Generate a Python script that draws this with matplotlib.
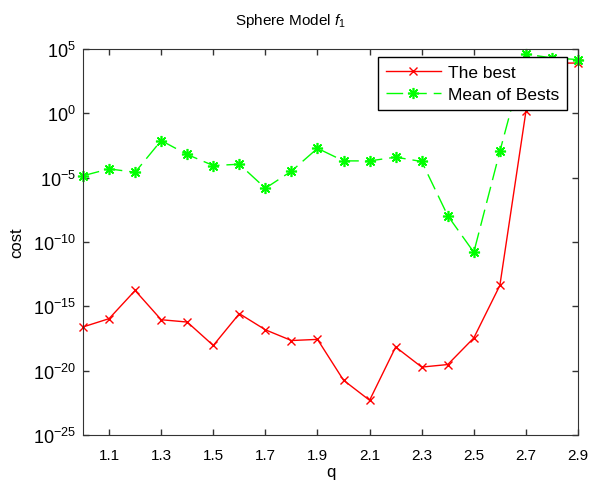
import matplotlib as mpl
mpl.use('Agg')
import matplotlib.pyplot as plt

plt.rcParams['font.family'] = ['Liberation Sans', 'DejaVu Sans']
plt.rcParams['mathtext.fontset'] = 'custom'
plt.rcParams['mathtext.rm'] = 'Liberation Sans'
plt.rcParams['mathtext.it'] = 'Liberation Sans:italic'

# q values and costs
q = [1.0, 1.1, 1.2, 1.3, 1.4, 1.5, 1.6, 1.7, 1.8, 1.9,
     2.0, 2.1, 2.2, 2.3, 2.4, 2.5, 2.6, 2.7, 2.8, 2.9]
the_best = [2.5e-17, 1.1e-16, 1.7e-14, 9.1e-17, 6.0e-17, 9.1e-19, 2.7e-16, 1.5e-17, 2.2e-18, 2.7e-18,
            1.8e-21, 5.0e-23, 6.9e-19, 1.9e-20, 3.0e-20, 3.5e-18, 4.2e-14, 1.4, 8.0e3, 8.0e3]
mean_of_bests = [1.4e-5, 4.8e-5, 2.6e-5, 7.6e-3, 6.3e-4, 8.7e-5, 1.1e-4, 1.5e-6, 3.2e-5, 1.9e-3,
                 2.0e-4, 2.0e-4, 3.9e-4, 1.8e-4, 1.1e-8, 1.6e-11, 1.1e-3, 4.0e4, 2.0e4, 1.5e4]

xticks = [1.1, 1.3, 1.5, 1.7, 1.9, 2.1, 2.3, 2.5, 2.7, 2.9]
xtick_labels = ['1.1', '1.3', '1.5', '1.7', '1.9', '2.1', '2.3', '2.5', '2.7', '2.9']
yexps = [-25, -20, -15, -10, -5, 0, 5]

fig = plt.figure(figsize=(5.9, 4.85), dpi=100)
ax = fig.add_axes([0.1407, 0.101, 0.839, 0.796])

ax.plot(q, the_best, '-', color='#ff0000', marker='x', markersize=5.5, linewidth=1.0,
        markeredgewidth=1.0, clip_on=False, label='The best')
ax.plot(q, mean_of_bests, color='#00ff00', marker=(8, 2, 0), markersize=8, linewidth=1.0,
        dashes=(12, 5), markeredgewidth=1.2, clip_on=False, label='Mean of Bests')

ax.set_yscale('log')
ax.set_xlim(1.0, 2.9)
ax.set_ylim(1e-25, 1e5)
ax.set_xticks(xticks)
ax.set_xticklabels(xtick_labels)
ax.set_yticks([10.0 ** e for e in yexps])
ax.set_yticklabels([r'$10^{%d}$' % e for e in yexps])
ax.minorticks_off()
ax.tick_params(direction='in', top=True, right=True, length=4.5, width=1,
               labelsize=11, color='#333333')
ax.tick_params(axis='x', pad=9)
ax.tick_params(axis='y', labelsize=13, pad=5)
for s in ax.spines.values():
    s.set_color('#333333')

ax.set_title(r'Sphere Model $f_1$', fontsize=11, pad=18, x=0.418)
ax.set_xlabel('q', fontsize=12, labelpad=2)
ax.set_ylabel('cost', fontsize=12, labelpad=6)

leg = ax.legend(loc='upper right', bbox_to_anchor=(0.978, 0.979), borderaxespad=0,
                fancybox=False, framealpha=1, edgecolor='black', fontsize=12.5,
                handlelength=3.2, handletextpad=0.4, borderpad=0.45, labelspacing=0.4)
leg.get_frame().set_linewidth(1.0)

plt.savefig('out.png', dpi=100)
